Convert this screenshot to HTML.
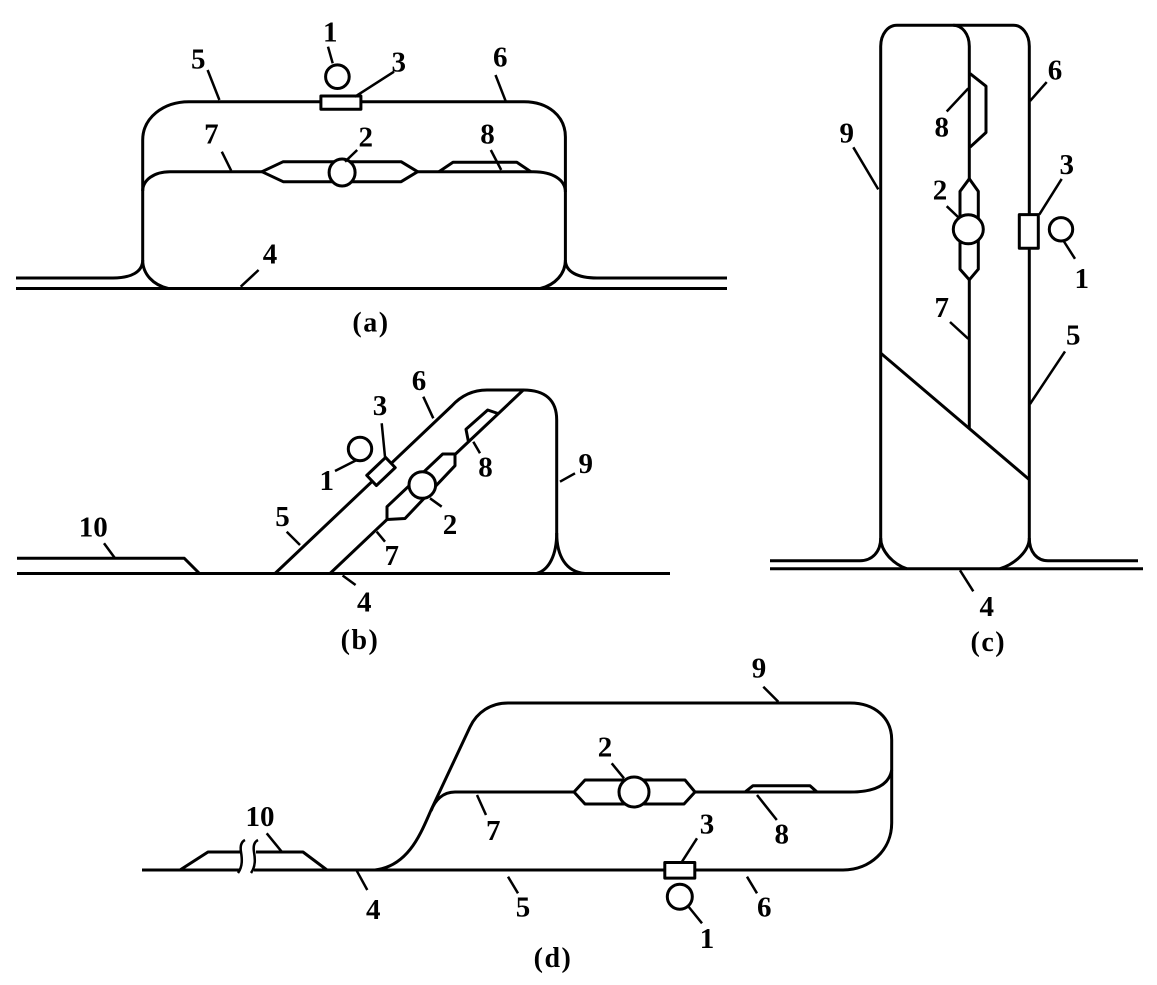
<!DOCTYPE html>
<html>
<head>
<meta charset="utf-8">
<style>
  html, body { margin: 0; padding: 0; background: #ffffff; }
  svg { display: block; }
  text { font-family: "Liberation Serif", "DejaVu Serif", serif; font-weight: bold; fill: #000; }
</style>
</head>
<body>
<svg width="1157" height="985" viewBox="0 0 1157 985" xmlns="http://www.w3.org/2000/svg">
<rect x="0" y="0" width="1157" height="985" fill="#ffffff"/>

<!-- ================= (a) ================= -->
<g fill="none" stroke="#000" stroke-width="3" stroke-linejoin="round">
  <path d="M16 288.5 H727"/>
  <path d="M16 278 H113 C131 278 142.7 272 142.7 260"/>
  <path d="M565.4 260 C565.4 272 578 278 597 278 H727"/>
  <path d="M142.7 260 V140 C142.7 118 163 101.7 189 101.7 H524 C548 101.7 565.4 116 565.4 137 V260"/>
  <path d="M142.7 191 C142.7 180 154 171.7 170 171.7 H261.9"/>
  <path d="M261.9 171.7 L283.2 161.7 H401.1 L417.6 171.7 L401.1 181.7 H283.2 Z"/>
  <path d="M417.6 171.7 H533.3 C553 171.7 565.4 180 565.4 192"/>
  <path d="M438.9 171.7 L453 162.3 H516.8 L530.9 171.7"/>
  <path d="M142.7 260 C142.7 274 153 285 168.3 288.5"/>
  <path d="M565.4 260 C565.4 274 555 285 540.3 288.5"/>
  <ellipse cx="342.1" cy="172.5" rx="13" ry="13.5" fill="#fff"/>
  <rect x="320.9" y="96" width="40" height="13.3" fill="#fff"/>
  <circle cx="337.4" cy="76.7" r="11.8"/>
</g>
<g fill="none" stroke="#000" stroke-width="2.5">
  <path d="M332.7 63.3 L328 46.7"/>
  <path d="M394 71.7 L355 96.7"/>
  <path d="M207.6 70 L219.4 100"/>
  <path d="M495.5 75 L505.9 101.7"/>
  <path d="M221.8 151.7 L231.2 170.7"/>
  <path d="M357.2 150 L345 161.7"/>
  <path d="M490.8 150 L501.2 170"/>
  <path d="M258.6 270 L240.7 286.7"/>
</g>
<g font-size="29" text-anchor="middle">
  <text x="330.3" y="41.7">1</text>
  <text x="398.8" y="71.7">3</text>
  <text x="198.2" y="68.3">5</text>
  <text x="500.2" y="66.7">6</text>
  <text x="211.4" y="143.3">7</text>
  <text x="365.7" y="146.7">2</text>
  <text x="487.5" y="143.3">8</text>
  <text x="270" y="263.3">4</text>
</g>
<text x="371" y="331.5" font-size="28" text-anchor="middle" letter-spacing="1.5">(a)</text>

<!-- ================= (b) ================= -->
<g fill="none" stroke="#000" stroke-width="3" stroke-linejoin="round">
  <path d="M17 573.5 H670"/>
  <path d="M17 558.3 H184.3 L199.5 573.5"/>
  <path d="M275 573.5 L451.7 406 C459 398 470 390 487 390 H523.3 C545 390 556.7 400 556.7 420 V533"/>
  <path d="M556.7 533 C556.7 555 549 570 536.7 573.5"/>
  <path d="M556.7 533 C556.7 556 566 572 585 573.5"/>
  <path d="M330 573.5 L387 519.5"/>
  <path d="M455 454.5 L523.3 390"/>
  <path d="M387 519.5 V506.7 L442.7 454 H455 V465.7 L405 518.5 Z"/>
  <path d="M468.3 441 L466 429.3 L487.7 410 L498 413.5"/>
  <circle cx="422.3" cy="485" r="13.3" fill="#fff"/>
  <circle cx="360" cy="449" r="11.7"/>
  <rect x="-13" y="-7" width="26" height="14" fill="#fff" transform="translate(381 471.5) rotate(-43.6)"/>
</g>
<g fill="none" stroke="#000" stroke-width="2.5">
  <path d="M104 543.3 L115 558.3"/>
  <path d="M356.7 460 L335 471"/>
  <path d="M381.7 423.3 L385 456.7"/>
  <path d="M423.3 396.7 L433.3 418.3"/>
  <path d="M286.7 531.7 L300 545"/>
  <path d="M473.3 441.7 L480 453.3"/>
  <path d="M441.7 506.7 L430 498.3"/>
  <path d="M376.7 531.7 L385 541.7"/>
  <path d="M575 473.3 L560 481.7"/>
  <path d="M342.6 575.5 L355.6 585"/>
</g>
<g font-size="29" text-anchor="middle">
  <text x="93.2" y="536.7">10</text>
  <text x="326.7" y="490">1</text>
  <text x="380" y="415">3</text>
  <text x="419" y="390">6</text>
  <text x="282.5" y="526">5</text>
  <text x="485.5" y="476.7">8</text>
  <text x="450" y="534">2</text>
  <text x="391.7" y="565">7</text>
  <text x="585.7" y="473">9</text>
  <text x="364.3" y="611.7">4</text>
</g>
<text x="360" y="649" font-size="28" text-anchor="middle" letter-spacing="1.5">(b)</text>

<!-- ================= (c) ================= -->
<g fill="none" stroke="#000" stroke-width="3" stroke-linejoin="round">
  <path d="M770 568.7 H1143"/>
  <path d="M770 560.7 H860 C872 560.7 880.7 552 880.7 538"/>
  <path d="M1029.3 538 C1029.3 552 1037 560.7 1048 560.7 H1138"/>
  <path d="M880.7 538 V46.3 C880.7 34 888 25.2 897 25.2 H1013.3 C1022 25.2 1029.3 34 1029.3 46.3 V538"/>
  <path d="M880.7 538 C880.7 551 893 564 906.7 568.7"/>
  <path d="M1029.3 538 C1029.3 551 1015 564 1000 568.7"/>
  <path d="M953.3 25.2 C962 25.2 969.3 34 969.3 46.3 V178.8"/>
  <path d="M969.3 279.8 V429"/>
  <path d="M881 353.4 L1029.3 479.6"/>
  <path d="M970 73.6 L986 86.2 V132.5 L970 147.2"/>
  <path d="M969.3 178.8 L978.3 191.4 V269.2 L969.3 279.8 L960 269.2 V191.4 Z"/>
  <ellipse cx="968.3" cy="229.3" rx="15" ry="14.5" fill="#fff"/>
  <rect x="1019.3" y="214.6" width="19" height="33.6" fill="#fff"/>
  <circle cx="1061" cy="229.3" r="11.7"/>
</g>
<g fill="none" stroke="#000" stroke-width="2.5">
  <path d="M1063 240 L1075 258.8"/>
  <path d="M1061.7 178.9 L1039.3 214.6"/>
  <path d="M1046.7 82.1 L1030 101"/>
  <path d="M1065 351.4 L1030 404"/>
  <path d="M946.7 111.5 L968.3 88.4"/>
  <path d="M853.3 147.3 L878.3 189.4"/>
  <path d="M946.7 206.2 L960 218.9"/>
  <path d="M950 322 L968.3 338.8"/>
  <path d="M973.3 591.3 L960 570.3"/>
</g>
<g font-size="29" text-anchor="middle">
  <text x="1081.7" y="287.8">1</text>
  <text x="1066.7" y="174.1">3</text>
  <text x="1055" y="79.4">6</text>
  <text x="1073.3" y="344.6">5</text>
  <text x="941.7" y="136.3">8</text>
  <text x="846.7" y="142.6">9</text>
  <text x="940" y="199.4">2</text>
  <text x="941.7" y="317.2">7</text>
  <text x="986.7" y="616">4</text>
</g>
<text x="988.3" y="651" font-size="28" text-anchor="middle" letter-spacing="1.5">(c)</text>

<!-- ================= (d) ================= -->
<g fill="none" stroke="#000" stroke-width="3" stroke-linejoin="round">
  <path d="M142 870 H240"/>
  <path d="M254 870 H843 C870 870 891.7 850 891.7 823 V770"/>
  <path d="M891.7 770 V740 C891.7 718 875 703 850 703 H508 C491 703 477 712 470 727 L432 808 C422 830 410 866 375 870"/>
  <path d="M431 811 C435 800 443 792 455 792 H574"/>
  <path d="M574 792 L585 780 H685 L695 792 L684 804 H585 Z"/>
  <path d="M695 792 H850 C875 792 889 785 891.7 770"/>
  <path d="M745 792 L753 785.7 H810 L817 792"/>
  <circle cx="634" cy="792" r="15" fill="#fff"/>
  <rect x="664.8" y="862.5" width="30" height="15.6" fill="#fff"/>
  <circle cx="679.8" cy="896.7" r="12.5"/>
  <path d="M180 870 L208 852 H242"/>
  <path d="M256 852 H303 L327 870"/>
  <path d="M245 840 C241 842 240 846 241 852 C242 858 243 866 238 873" stroke-width="2.5"/>
  <path d="M258 840 C254 842 253 846 254 852 C255 858 256 866 251 873" stroke-width="2.5"/>
</g>
<g fill="none" stroke="#000" stroke-width="2.5">
  <path d="M266.7 833.3 L281.7 851.7"/>
  <path d="M356.7 870.7 L367.3 890"/>
  <path d="M508 876.7 L518 893.3"/>
  <path d="M697 838.3 L682 861.7"/>
  <path d="M688 906 L702 923.3"/>
  <path d="M747 876.7 L757 893.3"/>
  <path d="M477 795 L486 815"/>
  <path d="M757 795 L776.8 820"/>
  <path d="M611.7 763.3 L624 778.3"/>
  <path d="M763.3 686.7 L778.3 701.7"/>
</g>
<g font-size="29" text-anchor="middle">
  <text x="260" y="826">10</text>
  <text x="373.3" y="919">4</text>
  <text x="523" y="916.7">5</text>
  <text x="707" y="833.3">3</text>
  <text x="707" y="948">1</text>
  <text x="764.3" y="916.7">6</text>
  <text x="493.2" y="840">7</text>
  <text x="781.7" y="843.3">8</text>
  <text x="605" y="756.7">2</text>
  <text x="759" y="677.5">9</text>
</g>
<text x="553" y="967" font-size="28" text-anchor="middle" letter-spacing="1.5">(d)</text>
</svg>
</body>
</html>
